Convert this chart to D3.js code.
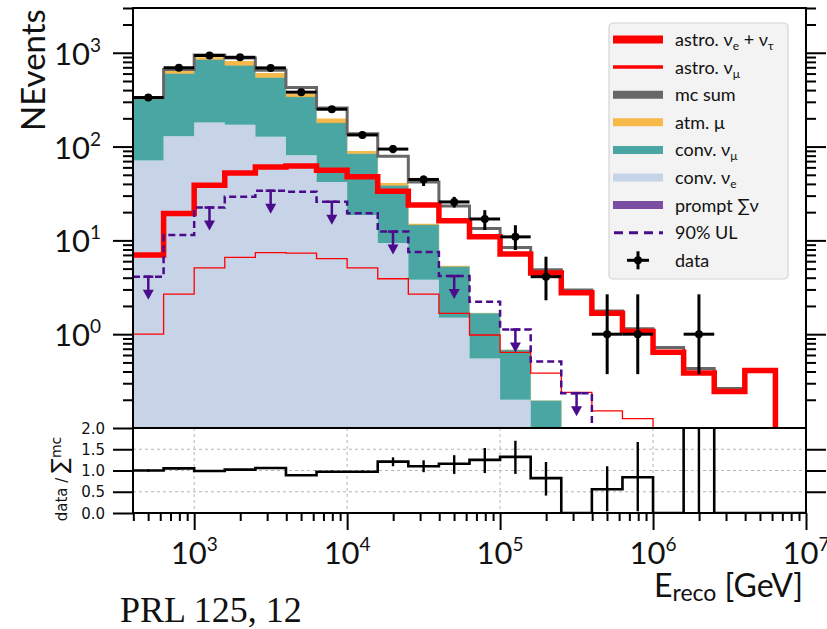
<!DOCTYPE html>
<html>
<head>
<meta charset="utf-8">
<script src="https://cdn.jsdelivr.net/npm/d3@7"></script>
<style>
  body { margin: 0; background: #fff; }
  text { font-family: Lato, "Noto Sans", sans-serif; fill: #111; }
</style>
</head>
<body>
<svg id="chart" width="827" height="629"></svg>
<script>
// bin edges in GeV (0.2 decade bins)
const binEdges = [398.1, 631.0, 1000, 1584.9, 2511.9, 3981.1, 6309.6, 10000, 15848.9,
  25118.9, 39810.7, 63095.7, 100000, 158489, 251189, 398107, 630957, 1000000,
  1584893, 2511886, 3981072, 6309573, 10000000];

// stacked backgrounds (per bin, own contribution)
const convNuE = [71, 129, 180, 171, 127, 81, 42, 18.6, 9.4, 3.8, 1.5, 0.55, 0.2, 0, 0, 0, 0, 0, 0, 0, 0, 0];
const convNuMu = [251, 469, 663, 561, 415, 256, 136, 65, 29, 10.8, 3.75, 1.12, 0.48, 0.195, 0, 0, 0, 0, 0, 0, 0, 0];
const atmMu = [4, 50, 55, 83, 65, 29, 21, 6, 2.5, 0.4, 0.1, 0, 0, 0, 0, 0, 0, 0, 0, 0, 0, 0];

// lines
const mcSum = [333, 665, 945, 880, 651, 427, 257, 137, 79, 42, 23.2, 13.4, 8.4, 4.85, 2.96, 1.77, 1.14, 0.72, 0.43, 0.264, 0.41, 0];
const astroNuENuTau = [7.0, 19.4, 38.8, 52.4, 60.7, 62, 56, 47.6, 33.3, 23.8, 16.2, 10.9, 7.15, 4.5, 2.77, 1.67, 1.07, 0.64, 0.385, 0.245, 0.41, 0];
const astroNuMu = [1.0, 2.67, 5.1, 6.6, 7.4, 7.3, 6.4, 5.1, 3.9, 2.67, 1.67, 0.98, 0.64, 0.385, 0.24, 0.152, 0.126, 0, 0, 0, 0, 0];
const promptUL = [4.1, 11.4, 22.4, 29.1, 33.8, 33, 25.8, 19.5, 12.4, 7.5, 4.17, 2.22, 1.12, 0.51, 0.235, 0, 0, 0, 0, 0, 0, 0];
const ulArrowBins = [0, 2, 4, 6, 8, 10, 12, 14];

// data
const dataCounts = [333, 692, 935, 895, 690, 380, 250, 133, 94, 44.6, 25.7, 16.9, 10.9, 4.1, null, 1, 1, null, 1, null, null, null];
const dataLo = [316, 666, 905, 866, 666, 362, 235, 122, 85, 38, 22.4, 12.9, 7.9, 2.3, null, 0.375, 0.375, null, 0.375, null, null, null];
const dataHi = [350, 718, 965, 925, 716, 399, 266, 145, 104, 49, 29.1, 21, 14.5, 6.7, null, 2.66, 2.66, null, 2.66, null, null, null];

// data / sum mc
const ratio = [1.0, 1.05, 0.99, 1.02, 1.06, 0.89, 0.97, 0.97, 1.21, 1.10, 1.16, 1.25, 1.32, 0.82, 0, 0.56, 0.84, 0, 3.0, 0, 0, 0];
const ratioLo = [0.97, 1.02, 0.97, 1.0, 1.04, 0.87, 0.95, 0.94, 1.10, 0.96, 0.92, 0.94, 0.92, 0.41, null, 0.04, 0.04, null, 0, null, null, null];
const ratioHi = [1.03, 1.08, 1.01, 1.04, 1.08, 0.91, 1.0, 1.0, 1.31, 1.24, 1.36, 1.53, 1.70, 1.20, null, 1.10, 1.67, null, 3, null, null, null];

// ticks
const xMajorTicks = [1e3, 1e4, 1e5, 1e6, 1e7];
const xTickExponents = ['3', '4', '5', '6', '7'];
const yMajorTicks = [1, 10, 100, 1000];
const yTickExponents = ['0', '1', '2', '3'];
const ratioTicks = [0, 0.5, 1, 1.5, 2];
const ratioTickLabels = ['0.0', '0.5', '1.0', '1.5', '2.0'];

const colors = {
  nuE: '#c7d3e6',
  nuMu: '#49a6a3',
  atmMu: '#f8b94b',
  mc: '#676767',
  astro: '#ff0000',
  prompt: '#7a4ea3',
  ul: '#4b0c8c',
};

const svg = d3.select('#chart');
const frame = { left: 133, right: 806, top: 8, mid: 428, bottom: 513 };
const FLOOR = 0.01;

const x = d3.scaleLog()
  .domain([binEdges[0], binEdges[binEdges.length - 1]])
  .range([frame.left, frame.right]);
const y = d3.scaleLog().domain([0.1, 3000]).range([frame.mid, frame.top]);
const yRatio = d3.scaleLinear().domain([0, 2]).range([frame.bottom, frame.mid]);

const bins = d3.range(binEdges.length - 1);
const binCenter = i => Math.sqrt(binEdges[i] * binEdges[i + 1]);
const yc = v => y(Math.max(v, FLOOR));

function stepPoints(values) {
  return bins.flatMap(i => [[binEdges[i], values[i]], [binEdges[i + 1], values[i]]]);
}

const mainLine = d3.line().x(d => x(d[0])).y(d => yc(d[1]));
const ratioLine = d3.line().x(d => x(d[0])).y(d => yRatio(d[1]));

const defs = svg.append('defs');
defs.append('clipPath').attr('id', 'clip-main')
  .append('rect')
  .attr('x', frame.left).attr('y', frame.top)
  .attr('width', frame.right - frame.left).attr('height', frame.mid - frame.top);
defs.append('clipPath').attr('id', 'clip-ratio')
  .append('rect')
  .attr('x', frame.left).attr('y', frame.mid)
  .attr('width', frame.right - frame.left).attr('height', frame.bottom - frame.mid);

// ---- main panel ----
const main = svg.append('g').attr('clip-path', 'url(#clip-main)');

const rows = bins.map(i => ({ nuE: convNuE[i], nuMu: convNuMu[i], atmMu: atmMu[i] }));
const stacked = d3.stack().keys(['nuE', 'nuMu', 'atmMu'])(rows);
const stepArea = d3.area()
  .x(d => x(d.x))
  .y0(d => yc(d.y0))
  .y1(d => yc(d.y1));

stacked.forEach((series) => {
  const pts = bins.flatMap(i => [
    { x: binEdges[i], y0: series[i][0], y1: series[i][1] },
    { x: binEdges[i + 1], y0: series[i][0], y1: series[i][1] },
  ]);
  main.append('path')
    .attr('d', stepArea(pts))
    .attr('fill', colors[series.key])
  ;
});

// thin olive edge where the muon stack sits on the teal
main.append('path')
  .attr('d', mainLine(stepPoints(bins.map(i => convNuE[i] + convNuMu[i]))))
  .attr('fill', 'none')
  .attr('stroke', '#8fa86c')
  .attr('stroke-width', 0.8)
  .attr('opacity', 0.7)
;

main.append('path')
  .attr('d', mainLine(stepPoints(mcSum)))
  .attr('fill', 'none')
  .attr('stroke', colors.mc)
  .attr('stroke-width', 3)
;
main.append('path')
  .attr('d', mainLine(stepPoints(astroNuENuTau)))
  .attr('fill', 'none')
  .attr('stroke', colors.astro)
  .attr('stroke-width', 5.5)
;
main.append('path')
  .attr('d', mainLine(stepPoints(astroNuMu)))
  .attr('fill', 'none')
  .attr('stroke', colors.astro)
  .attr('stroke-width', 1.3)
;
main.append('path')
  .attr('d', mainLine(stepPoints(promptUL)))
  .attr('fill', 'none')
  .attr('stroke', colors.ul)
  .attr('stroke-width', 2.5)
  .attr('stroke-dasharray', '7,4')
;

const arrow = main.selectAll('g.ul-arrow')
  .data(ulArrowBins)
  .enter()
  .append('g')
  .attr('class', 'ul-arrow')
  .attr('transform', i => `translate(${x(binCenter(i))},${yc(promptUL[i])})`)
;
arrow.append('line')
  .attr('x1', -5).attr('x2', 5)
  .attr('stroke', colors.ul).attr('stroke-width', 2.5);
arrow.append('line')
  .attr('y1', 0).attr('y2', 15)
  .attr('stroke', colors.ul).attr('stroke-width', 2.5);
arrow.append('path')
  .attr('d', 'M-5.5,13 L5.5,13 L0,23 Z')
  .attr('fill', colors.ul);

const dataBins = bins.filter(i => dataCounts[i] != null);
const point = main.selectAll('g.data')
  .data(dataBins)
  .enter()
  .append('g')
  .attr('class', 'data')
;
point.append('line')
  .attr('x1', i => x(binEdges[i])).attr('x2', i => x(binEdges[i + 1]))
  .attr('y1', i => y(dataCounts[i])).attr('y2', i => y(dataCounts[i]))
  .attr('stroke', '#000').attr('stroke-width', 3);
point.append('line')
  .attr('x1', i => x(binCenter(i))).attr('x2', i => x(binCenter(i)))
  .attr('y1', i => y(dataLo[i])).attr('y2', i => y(dataHi[i]))
  .attr('stroke', '#000').attr('stroke-width', 3);
point.append('circle')
  .attr('cx', i => x(binCenter(i)))
  .attr('cy', i => y(dataCounts[i]))
  .attr('r', 4)
  .attr('fill', '#000');

// ---- ratio panel ----
const grid = svg.append('g');
grid.selectAll('line.vgrid')
  .data(xMajorTicks.filter(v => v < 1e7))
  .enter()
  .append('line')
  .attr('x1', d => x(d)).attr('x2', d => x(d))
  .attr('y1', frame.mid).attr('y2', frame.bottom)
  .attr('stroke', '#b5b5b5').attr('stroke-width', 1).attr('stroke-dasharray', '3,3');
grid.selectAll('line.hgrid')
  .data([0.5, 1, 1.5])
  .enter()
  .append('line')
  .attr('x1', frame.left).attr('x2', frame.right)
  .attr('y1', d => yRatio(d)).attr('y2', d => yRatio(d))
  .attr('stroke', '#b5b5b5').attr('stroke-width', 1).attr('stroke-dasharray', '3,3');

const ratioG = svg.append('g').attr('clip-path', 'url(#clip-ratio)');
ratioG.append('path')
  .attr('d', ratioLine(stepPoints(ratio)))
  .attr('fill', 'none')
  .attr('stroke', '#000')
  .attr('stroke-width', 2.6)
;
ratioG.selectAll('line.rerr')
  .data(bins.filter(i => ratioLo[i] != null))
  .enter()
  .append('line')
  .attr('x1', i => x(binCenter(i))).attr('x2', i => x(binCenter(i)))
  .attr('y1', i => yRatio(ratioLo[i])).attr('y2', i => yRatio(ratioHi[i]))
  .attr('stroke', '#000').attr('stroke-width', 2.4);

// ---- frames and ticks ----
svg.append('rect')
  .attr('x', frame.left).attr('y', frame.top)
  .attr('width', frame.right - frame.left).attr('height', frame.mid - frame.top)
  .attr('fill', 'none').attr('stroke', '#000').attr('stroke-width', 2);
svg.append('rect')
  .attr('x', frame.left).attr('y', frame.mid)
  .attr('width', frame.right - frame.left).attr('height', frame.bottom - frame.mid)
  .attr('fill', 'none').attr('stroke', '#000').attr('stroke-width', 2);

function ticks(axisFn, scale, values, size, transform) {
  const g = svg.append('g')
    .attr('transform', transform)
    .call(axisFn(scale).tickValues(values).tickSize(size).tickFormat(''));
  g.select('.domain').remove();
  g.selectAll('.tick line').attr('stroke', '#000').attr('stroke-width', 2);
  return g;
}

const yMinor = [];
[0.1, 1, 10, 100, 1000].forEach(d => d3.range(2, 10).forEach((k) => {
  const v = d * k;
  if (v > 0.1 && v <= 3000) yMinor.push(v);
}));
const xMinor = [];
[100, 1e3, 1e4, 1e5, 1e6].forEach(d => d3.range(2, 10).forEach((k) => {
  const v = d * k;
  if (v >= binEdges[0] && v < 1e7) xMinor.push(v);
}));

ticks(d3.axisLeft, y, yMajorTicks, 20, `translate(${frame.left},0)`);
ticks(d3.axisLeft, y, yMinor, 10, `translate(${frame.left},0)`);
ticks(d3.axisRight, y, yMajorTicks, 20, `translate(${frame.right},0)`);
ticks(d3.axisRight, y, yMinor, 10, `translate(${frame.right},0)`);
ticks(d3.axisLeft, yRatio, ratioTicks, 20, `translate(${frame.left},0)`);
ticks(d3.axisRight, yRatio, ratioTicks.slice(1, 4), 20, `translate(${frame.right},0)`);
ticks(d3.axisBottom, x, xMajorTicks, 17, `translate(0,${frame.bottom})`);
ticks(d3.axisBottom, x, xMinor, 8, `translate(0,${frame.bottom})`);

// power-of-ten labels
function powerLabel(sel, exp) {
  sel.append('tspan').text('10');
  sel.append('tspan').attr('dy', -13).attr('font-size', 19).text(exp);
}
yMajorTicks.forEach((v, i) => {
  svg.append('text')
    .attr('x', 101).attr('y', y(v) + 12)
    .attr('text-anchor', 'end')
    .attr('font-size', 31)
    .call(powerLabel, yTickExponents[i]);
});
xMajorTicks.forEach((v, i) => {
  svg.append('text')
    .attr('x', x(v)).attr('y', 564)
    .attr('text-anchor', 'middle')
    .attr('font-size', 31)
    .call(powerLabel, xTickExponents[i]);
});
ratioTicks.forEach((v, i) => {
  svg.append('text')
    .attr('x', 105).attr('y', yRatio(v) + 5.5)
    .attr('text-anchor', 'end')
    .attr('font-size', 15)
    .style('font-family', '"DejaVu Sans", sans-serif')
    .text(ratioTickLabels[i]);
});

// axis titles
svg.append('text')
  .attr('transform', 'translate(45,70) rotate(-90)')
  .attr('text-anchor', 'middle')
  .attr('font-size', 33)
  .text('NEvents');

const rLabel = svg.append('text')
  .attr('transform', 'translate(67,479) rotate(-90)')
  .attr('text-anchor', 'middle')
  .attr('font-size', 15)
  .style('font-family', '"DejaVu Sans", sans-serif');
rLabel.append('tspan').text('data / ');
rLabel.append('tspan').attr('font-size', 22).text('∑');
rLabel.append('tspan').attr('font-size', 14).attr('dy', -6).text('mc');

const xLabel = svg.append('text')
  .attr('x', 803).attr('y', 597)
  .attr('text-anchor', 'end')
  .attr('font-size', 32);
xLabel.append('tspan').text('E');
xLabel.append('tspan').attr('font-size', 23).attr('dy', 4).text('reco');
xLabel.append('tspan').attr('dy', -4).text(' [GeV]');

svg.append('text')
  .attr('x', 120).attr('y', 622)
  .attr('font-size', 36)
  .style('font-family', '"Liberation Serif", "Times New Roman", serif')
  .text('PRL 125, 12');

// ---- legend ----
const legendItems = [
  { kind: 'line', color: colors.astro, width: 8, parts: [['astro. ν'], ['e', 1], [' + ν'], ['τ', 1]] },
  { kind: 'line', color: colors.astro, width: 3.5, parts: [['astro. ν'], ['μ', 1]] },
  { kind: 'line', color: colors.mc, width: 8, parts: [['mc sum']] },
  { kind: 'line', color: colors.atmMu, width: 8, parts: [['atm. μ']] },
  { kind: 'line', color: colors.nuMu, width: 8, parts: [['conv. ν'], ['μ', 1]] },
  { kind: 'line', color: colors.nuE, width: 8, parts: [['conv. ν'], ['e', 1]] },
  { kind: 'line', color: colors.prompt, width: 8, parts: [['prompt '], ['∑ν']] },
  { kind: 'dash', color: colors.ul, width: 3, parts: [['90% UL']] },
  { kind: 'data', color: '#000', width: 3, parts: [['data']] },
];

const legend = svg.append('g').attr('class', 'legend');
legend.append('rect')
  .attr('x', 609).attr('y', 23)
  .attr('width', 179).attr('height', 256)
  .attr('rx', 4).attr('ry', 4)
  .attr('fill', '#f3f3f3')
  .attr('stroke', '#d4d4d4')
  .attr('stroke-width', 1.2);

legendItems.forEach((item, i) => {
  const cy = 39.5 + i * 27.6;
  const row = legend.append('g').attr('transform', `translate(0,${cy})`);
  if (item.kind === 'data') {
    row.append('line').attr('x1', 627).attr('x2', 649)
      .attr('stroke', '#000').attr('stroke-width', 3);
    row.append('line').attr('x1', 638).attr('x2', 638).attr('y1', -9).attr('y2', 9)
      .attr('stroke', '#000').attr('stroke-width', 3);
    row.append('circle').attr('cx', 638).attr('r', 4).attr('fill', '#000');
  } else {
    row.append('line')
      .attr('x1', item.kind === 'dash' ? 614 : 613).attr('x2', 663)
      .attr('stroke', item.color)
      .attr('stroke-width', item.width)
      .attr('stroke-dasharray', item.kind === 'dash' ? '9,6' : null);
  }
  const t = row.append('text')
    .attr('x', 675).attr('y', 6.5)
    .attr('font-size', 18);
  let shifted = false;
  item.parts.forEach(([s, sub]) => {
    const span = t.append('tspan').text(s);
    if (sub && !shifted) { span.attr('dy', 4).attr('font-size', 12); shifted = true; }
    else if (sub) span.attr('font-size', 12);
    else if (shifted) { span.attr('dy', -4); shifted = false; }
  });
});
</script>
</body>
</html>
